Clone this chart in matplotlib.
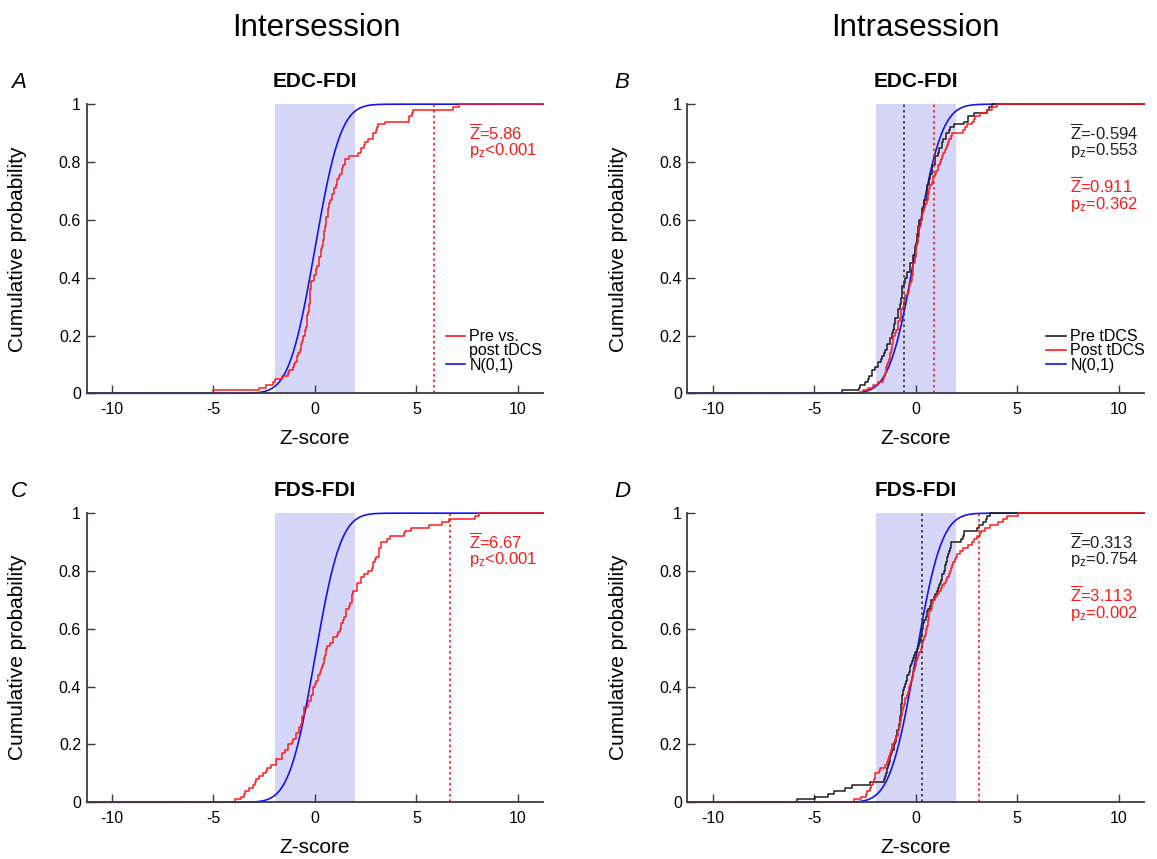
import math
import numpy as np
import matplotlib
matplotlib.use("Agg")
import matplotlib.pyplot as plt
from matplotlib.lines import Line2D

plt.rcParams['font.family'] = ['Liberation Sans', 'DejaVu Sans']
plt.rcParams['mathtext.fontset'] = 'custom'
plt.rcParams['mathtext.rm'] = 'Liberation Sans'
plt.rcParams['mathtext.it'] = 'Liberation Sans:italic'
plt.rcParams['axes.unicode_minus'] = False

# ---- data: z-scores ----
a_prepost = [-5.03, -2.75, -2.42, -2.05, -1.98, -1.62, -1.32, -1.28, -1.10, -1.02,
             -0.99, -0.88, -0.86, -0.84, -0.72, -0.70, -0.69, -0.62, -0.60, -0.58,
             -0.49, -0.47, -0.46, -0.40, -0.39, -0.38, -0.37, -0.36, -0.29, -0.28,
             -0.27, -0.26, -0.25, -0.24, -0.235, -0.23, -0.19, -0.18, -0.17, -0.06,
             -0.04, 0.06, 0.07, 0.08, 0.19, 0.20, 0.21, 0.28, 0.29, 0.30,
             0.37, 0.38, 0.39, 0.45, 0.46, 0.47, 0.48, 0.52, 0.53, 0.54,
             0.55, 0.63, 0.64, 0.65, 0.70, 0.71, 0.72, 0.83, 0.85, 0.94,
             0.96, 1.06, 1.07, 1.08, 1.21, 1.23, 1.34, 1.35, 1.36, 1.47,
             1.49, 1.70, 2.13, 2.25, 2.27, 2.43, 2.45, 2.62, 2.85, 2.87,
             2.99, 3.07, 3.09, 3.44, 4.62, 4.64, 4.80, 4.82, 6.81, 7.09]

c_prepost = [-3.93, -3.66, -3.49, -3.47, -3.26, -3.06, -2.94, -2.92, -2.75, -2.57,
             -2.40, -2.38, -2.15, -1.94, -1.92, -1.63, -1.61, -1.48, -1.34, -1.32,
             -1.12, -1.10, -0.94, -0.92, -0.79, -0.77, -0.67, -0.66, -0.65, -0.64,
             -0.54, -0.53, -0.52, -0.36, -0.34, -0.21, -0.19, -0.12, -0.11, -0.10,
             0.01, 0.03, 0.15, 0.17, 0.26, 0.28, 0.37, 0.39, 0.46, 0.47,
             0.48, 0.55, 0.56, 0.57, 0.75, 0.88, 0.90, 1.10, 1.12, 1.25,
             1.26, 1.27, 1.39, 1.41, 1.52, 1.53, 1.54, 1.70, 1.72, 1.83,
             1.84, 1.85, 1.86, 2.07, 2.08, 2.09, 2.25, 2.27, 2.44, 2.62,
             2.83, 2.84, 2.85, 2.98, 3.00, 3.16, 3.17, 3.18, 3.25, 3.27,
             3.53, 3.72, 4.40, 4.46, 4.72, 5.63, 6.27, 6.63, 7.90, 8.09]

b_pre = [-3.64, -2.79, -2.77, -2.51, -2.34, -2.32, -2.16, -2.14, -2.00, -1.88,
         -1.86, -1.70, -1.68, -1.56, -1.54, -1.43, -1.41, -1.28, -1.26, -1.16,
         -1.15, -1.14, -1.06, -1.05, -1.04, -1.03, -0.88, -0.87, -0.86, -0.77,
         -0.76, -0.75, -0.74, -0.70, -0.69, -0.68, -0.67, -0.56, -0.55, -0.54,
         -0.43, -0.41, -0.30, -0.29, -0.28, -0.16, -0.15, -0.14, -0.06, -0.05,
         -0.04, 0.03, 0.04, 0.05, 0.06, 0.11, 0.12, 0.13, 0.14, 0.15,
         0.30, 0.31, 0.32, 0.33, 0.39, 0.40, 0.41, 0.53, 0.54, 0.55,
         0.56, 0.57, 0.66, 0.67, 0.68, 0.69, 0.79, 0.80, 0.81, 0.94,
         0.95, 0.96, 1.12, 1.13, 1.14, 1.30, 1.31, 1.32, 1.48, 1.50,
         1.66, 1.68, 1.89, 2.40, 2.57, 2.59, 2.85, 3.49, 3.62, 3.76]

b_post = [-2.62, -2.36, -2.11, -1.86, -1.62, -1.55, -1.50, -1.47, -1.45, -1.43,
          -1.36, -1.32, -1.29, -1.27, -1.20, -1.17, -1.15, -1.13, -1.12, -1.11,
          -1.00, -0.95, -0.90, -0.88, -0.87, -0.76, -0.73, -0.72, -0.71, -0.63,
          -0.58, -0.56, -0.55, -0.54, -0.40, -0.33, -0.31, -0.30, -0.22, -0.19,
          -0.17, -0.15, -0.14, -0.13, -0.12, -0.06, -0.03, 0.00, 0.01, 0.02,
          0.03, 0.04, 0.09, 0.12, 0.14, 0.15, 0.16, 0.17, 0.24, 0.27,
          0.30, 0.31, 0.38, 0.42, 0.46, 0.48, 0.55, 0.58, 0.61, 0.63,
          0.64, 0.72, 0.78, 0.84, 0.86, 0.95, 1.02, 1.08, 1.11, 1.18,
          1.24, 1.30, 1.35, 1.42, 1.48, 1.52, 1.60, 1.66, 1.72, 1.77,
          2.34, 2.45, 2.51, 2.76, 2.85, 2.92, 3.17, 3.50, 3.75, 4.00]

d_pre = [-5.87, -4.96, -4.33, -4.05, -3.51, -3.15, -2.24, -1.56, -1.50, -1.46,
         -1.44, -1.40, -1.38, -1.30, -1.27, -1.25, -1.24, -1.15, -1.08, -1.05,
         -1.00, -0.97, -0.95, -0.93, -0.91, -0.85, -0.82, -0.80, -0.79, -0.78,
         -0.75, -0.73, -0.72, -0.71, -0.70, -0.69, -0.66, -0.63, -0.61, -0.60,
         -0.52, -0.47, -0.44, -0.42, -0.35, -0.30, -0.26, -0.24, -0.18, -0.13,
         -0.11, -0.02, 0.04, 0.12, 0.18, 0.22, 0.26, 0.28, 0.30, 0.31,
         0.36, 0.38, 0.40, 0.48, 0.53, 0.56, 0.58, 0.68, 0.73, 0.76,
         0.88, 0.95, 1.03, 1.10, 1.13, 1.20, 1.25, 1.29, 1.31, 1.38,
         1.42, 1.45, 1.50, 1.54, 1.56, 1.58, 1.65, 1.70, 1.74, 1.76,
         2.22, 2.35, 2.38, 2.40, 3.04, 3.10, 3.31, 3.45, 3.52, 3.67]

d_post = [-3.02, -2.69, -2.45, -2.40, -2.26, -2.22, -2.10, -2.06, -2.02, -2.00,
          -1.80, -1.75, -1.51, -1.42, -1.36, -1.33, -1.25, -1.20, -1.17, -1.15,
          -1.06, -1.02, -0.95, -0.90, -0.86, -0.84, -0.80, -0.76, -0.73, -0.71,
          -0.70, -0.69, -0.62, -0.56, -0.53, -0.51, -0.44, -0.38, -0.35, -0.33,
          -0.27, -0.23, -0.19, -0.16, -0.15, -0.10, -0.05, -0.01, 0.02, 0.04,
          0.12, 0.18, 0.25, 0.29, 0.31, 0.38, 0.42, 0.45, 0.48, 0.49,
          0.55, 0.58, 0.61, 0.63, 0.66, 0.67, 0.74, 0.78, 0.82, 0.85,
          0.95, 1.04, 1.15, 1.22, 1.27, 1.40, 1.49, 1.56, 1.62, 1.67,
          1.75, 1.80, 1.85, 1.94, 2.00, 2.04, 2.20, 2.31, 2.58, 2.75,
          2.85, 3.04, 3.15, 3.22, 3.40, 3.67, 4.04, 4.30, 4.49, 5.04]

# stouffer Z and p for each series
a_stats = [("5.86", "<0.001")]
b_stats = [("-0.594", "=0.553"), ("0.911", "=0.362")]
c_stats = [("6.67", "<0.001")]
d_stats = [("0.313", "=0.754"), ("3.113", "=0.002")]
a_zbar = [5.86]
b_zbar = [-0.594, 0.911]
c_zbar = [6.67]
d_zbar = [0.313, 3.113]

RED = '#ff1a1a'
BLUE = '#1414f0'
BLACK = '#1e1e1e'
AXC = '#3a3a48'
XMIN, XMAX = -11.25, 11.25


def norm_cdf(x):
    return 0.5 * (1 + np.vectorize(math.erf)(x / math.sqrt(2)))


def ecdf(ax, vals, color):
    v = np.sort(np.array(vals))
    n = len(v)
    xs = np.concatenate([[XMIN], v, [XMAX]])
    ys = np.concatenate([[0], np.arange(1, n + 1) / n, [1]])
    ax.step(xs, ys, where='post', color=color, lw=1.1, clip_on=False, zorder=3)


def panel(ax, title, series, colors, zbars, stats, labels):
    ax.axvspan(-1.96, 1.96, color='#d6d6f8', lw=0, zorder=0)
    xx = np.linspace(XMIN, XMAX, 600)
    ax.plot(xx, norm_cdf(xx), color=BLUE, lw=1.2, clip_on=False, zorder=2)
    for s, c in zip(series, colors):
        ecdf(ax, s, c)
    for z, c in zip(zbars, colors):
        dc = '#303048' if c == BLACK else RED
        ax.plot([z, z], [0, 1], color=dc, lw=1.2, dashes=(1.5, 1.8), zorder=4)
    ypos = [(0.899, 0.839), (0.717, 0.654)]
    for (zt, pt), c, (y1, y2) in zip(stats, colors, ypos):
        tc = '#222222' if c == BLACK else RED
        ax.text(0.837, y1, r'$\overline{\mathrm{Z}}$=' + zt, transform=ax.transAxes,
                color=tc, fontsize=12, va='center', ha='left')
        ax.text(0.837, y2, r'p$_\mathrm{z}$' + pt, transform=ax.transAxes,
                color=tc, fontsize=12, va='center', ha='left')

    ax.set_xlim(XMIN, XMAX)
    ax.set_ylim(0, 1)
    ax.set_xticks([-10, -5, 0, 5, 10])
    ax.set_yticks([0, 0.2, 0.4, 0.6, 0.8, 1])
    ax.set_yticklabels(['0', '0.2', '0.4', '0.6', '0.8', '1'])
    for sp in ['top', 'right']:
        ax.spines[sp].set_visible(False)
    for sp in ['left', 'bottom']:
        ax.spines[sp].set_color(AXC)
        ax.spines[sp].set_linewidth(1.3)
        ax.spines[sp].set_zorder(5)
    ax.tick_params(direction='in', length=5.5, width=1, color=AXC, labelsize=11.5)
    ax.tick_params(axis='x', pad=6)
    ax.tick_params(axis='y', pad=4)
    ax.set_xlabel('Z-score', fontsize=15)
    ax.set_ylabel('Cumulative probability', fontsize=15)
    ax.xaxis.set_label_coords(0.5, -0.125)
    ax.yaxis.set_label_coords(-0.13, 0.5)
    ax.set_title(title, fontsize=15, fontweight='bold', y=1.059, pad=0)

    if labels:
        handles = [Line2D([], [], color=c, lw=1.2) for lab, c in labels]
        ax.legend(handles, [lab for lab, c in labels], loc='upper left',
                  bbox_to_anchor=(0.786, 0.222), frameon=False, fontsize=11.5,
                  handlelength=1.2, handletextpad=0.3, labelspacing=-0.05,
                  borderpad=0, borderaxespad=0)


fig = plt.figure(figsize=(11.57, 8.59), dpi=100)
W, H = 0.3946, 0.3366
axA = fig.add_axes([0.0749, 0.5421, W, H])
axB = fig.add_axes([0.5942, 0.5421, W, H])
axC = fig.add_axes([0.0749, 0.0660, W, H])
axD = fig.add_axes([0.5942, 0.0660, W, H])

panel(axA, 'EDC-FDI', [a_prepost], [RED], a_zbar, a_stats,
      [('Pre vs.', RED), ('post tDCS', 'none'), ('N(0,1)', BLUE)])
panel(axB, 'EDC-FDI', [b_pre, b_post], [BLACK, RED], b_zbar, b_stats,
      [('Pre tDCS', BLACK), ('Post tDCS', RED), ('N(0,1)', BLUE)])
panel(axC, 'FDS-FDI', [c_prepost], [RED], c_zbar, c_stats, [])
panel(axD, 'FDS-FDI', [d_pre, d_post], [BLACK, RED], d_zbar, d_stats, [])

fig.text(0.2737, 0.958, 'Intersession', fontsize=22.5, ha='center', va='baseline')
fig.text(0.7915, 0.958, 'Intrasession', fontsize=22.5, ha='center', va='baseline')
for x, y, letter in [(0.0095, 0.8976, 'A'), (0.531, 0.8976, 'B'),
                     (0.0095, 0.4214, 'C'), (0.531, 0.4214, 'D')]:
    fig.text(x, y, letter, fontsize=16, style='italic', ha='left', va='baseline')

fig.savefig('out.png', dpi=100)
